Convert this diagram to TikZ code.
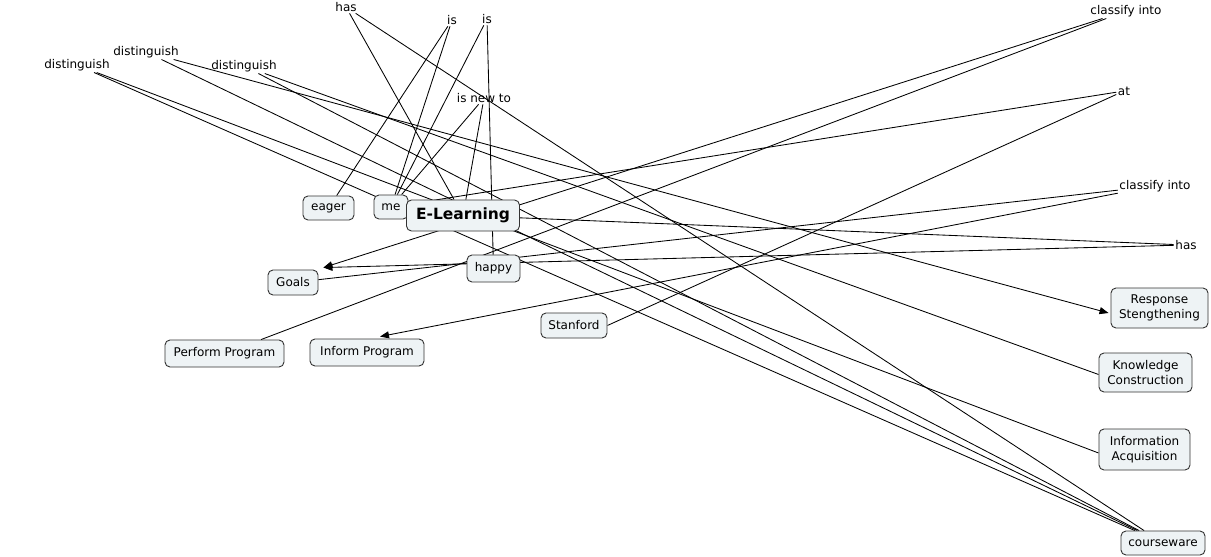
\documentclass[tikz,border=0pt]{standalone}
\usepackage{fontspec}
\setmainfont{DejaVu Sans}
\usetikzlibrary{arrows.meta}
\pgfdeclarelayer{bg}
\pgfsetlayers{bg,main}
\definecolor{boxfill}{HTML}{EEF3F5}
\definecolor{boxline}{HTML}{333333}
\begin{document}
\begin{tikzpicture}[x=1pt,y=-1pt,
  concept/.style={draw=boxline, fill=boxfill, rounded corners=5pt, inner sep=0pt, align=center,
    font=\fontsize{12}{14.5}\selectfont, line width=0.9pt},
  lbl/.style={inner sep=1.5pt, font=\fontsize{12}{14.5}\selectfont},
  conn/.style={draw=black, line width=0.85pt},
  arr/.style={conn, -{Triangle[length=9pt,width=7pt]}}]
\useasboundingbox (0,0) rectangle (1211,557);

% linking phrases
\node[lbl] (hasT) at (346,7) {has};
\node[lbl] (is1) at (452,20) {is};
\node[lbl] (is2) at (487,19) {is};
\node[lbl] (distA) at (77,65) {distinguish};
\node[lbl] (distB) at (146,52) {distinguish};
\node[lbl] (distC) at (244,66) {distinguish};
\node[lbl] (isnew) at (484,98) {is new to};
\node[lbl] (clsT) at (1126,11) {classify into};
\node[lbl] (at) at (1124,91) {at};
\node[lbl] (clsM) at (1155,186) {classify into};
\node[lbl] (hasR) at (1186,245) {has};

% concepts
\node[concept, minimum width=51pt, minimum height=24pt] (eager) at (328.5,208) {eager};
\node[concept, minimum width=34pt, minimum height=24pt] (me) at (391,207) {me};
\node[concept, minimum width=113pt, minimum height=31pt, font=\bfseries\fontsize{15.5}{17}\selectfont] (elearn) at (463,215.5) {E-Learning};
\node[concept, minimum width=53pt, minimum height=27pt] (happy) at (493.5,268.5) {happy};
\node[concept, minimum width=50pt, minimum height=25pt] (goals) at (293,282.5) {Goals};
\node[concept, minimum width=119pt, minimum height=27pt] (perform) at (224.5,353.5) {Perform Program};
\node[concept, minimum width=114pt, minimum height=27pt] (inform) at (367,352.5) {Inform Program};
\node[concept, minimum width=66pt, minimum height=25pt] (stanford) at (574,325.5) {Stanford};
\node[concept, minimum width=97pt, minimum height=40pt] (resp) at (1159.5,308) {Response\\Stengthening};
\node[concept, minimum width=93pt, minimum height=39pt] (know) at (1145.5,372.5) {Knowledge\\Construction};
\node[concept, minimum width=91pt, minimum height=41pt] (info) at (1144.5,449.5) {Information\\Acquisition};
\node[concept, minimum width=84pt, minimum height=24pt] (course) at (1163,543) {courseware};

% arrow end points as the picture shows them
\coordinate (goalsTip) at ([xshift=5pt,yshift=2pt]goals.north east);
\coordinate (informTip) at ([xshift=13pt,yshift=2pt]inform.north);
\coordinate (respTip) at ([xshift=-2pt,yshift=-5pt]resp.west);
\coordinate (knowEnd) at ([yshift=-2pt]know.west);
\coordinate (infoEnd) at ([yshift=-3.5pt]info.west);

\begin{pgfonlayer}{bg}
\fill[white] (0,0) rectangle (1211,557);
\draw[conn] (elearn) -- (hasT);
\draw[conn] (hasT) -- (course);
\draw[conn] (me) -- (is1);
\draw[conn] (is1) -- (eager);
\draw[conn] (me) -- (is2);
\draw[conn] (is2) -- (happy);
\draw[conn] (elearn) -- (isnew);
\draw[conn] (isnew) -- (me);
\draw[conn] (me) -- (at);
\draw[conn] (at) -- (stanford.east);
\draw[conn] (course) -- (distA);
\draw[conn] (distA) -- (infoEnd);
\draw[conn] (course) -- (distB);
\draw[arr] (distB) -- (respTip);
\draw[conn] (course) -- (distC);
\draw[conn] (distC) -- (knowEnd);
\draw[conn] (elearn) -- (hasR);
\draw[arr] (hasR) -- (goalsTip);
\draw[conn] (goals) -- (clsM);
\draw[arr] (clsM) -- (informTip);
\draw[conn] (perform) -- (clsT);
\draw[arr] (clsT) -- (goalsTip);
\end{pgfonlayer}
\end{tikzpicture}
\end{document}
